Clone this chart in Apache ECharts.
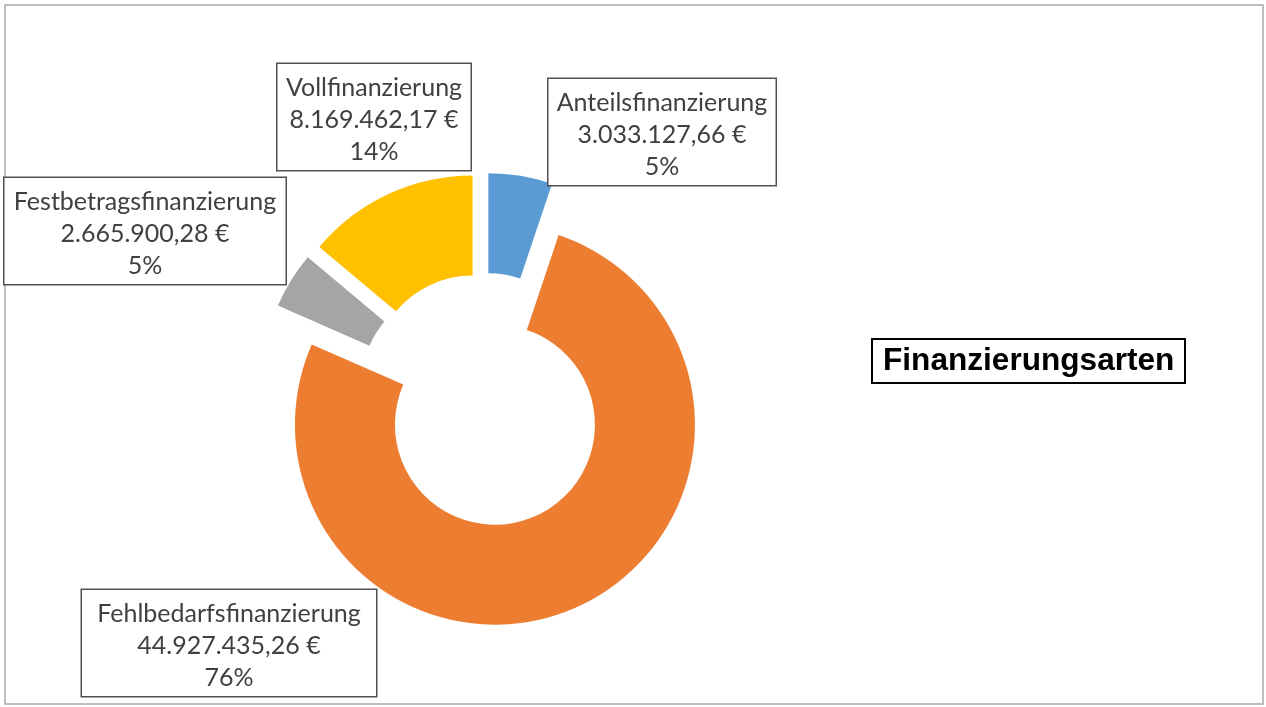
<!DOCTYPE html>
<html>
<head>
<meta charset="utf-8">
<title>Finanzierungsarten</title>
<script src="https://cdn.jsdelivr.net/npm/echarts@6/dist/echarts.min.js"></script>
<style>
    html, body { margin: 0; padding: 0; background: #fff; }
    #chart { width: 1266px; height: 707px; }
</style>
</head>
<body>
<div id="chart"></div>
<script>
    // Daten
    const categories = ['Anteilsfinanzierung', 'Fehlbedarfsfinanzierung', 'Festbetragsfinanzierung', 'Vollfinanzierung']
    const amounts = [3033127.66, 44927435.26, 2665900.28, 8169462.17]
    const titleText = 'Finanzierungsarten'

    // Farben und Lage der Beschriftungskästen (Mitte x, oben y, Breite)
    const sliceColors = ['#5B9BD5', '#ED7D31', '#A5A5A5', '#FFC000']
    const labelBoxes = [
        [662, 79, 227],
        [229, 590, 294],
        [145, 178, 281],
        [374, 64, 193]
    ]

    // 3033127.66 -> "3.033.127,66 €"
    function euro(v) {
        const parts = v.toFixed(2).split('.')
        return parts[0].replace(/\B(?=(\d{3})+(?!\d))/g, '.') + ',' + parts[1] + ' €'
    }

    const total = amounts.reduce((a, b) => a + b, 0)

    // Beschriftungen als Kästen (wie im Original frei platziert)
    const labelGraphics = categories.map((name, i) => ({
        type: 'text',
        x: labelBoxes[i][0],
        y: labelBoxes[i][1],
        silent: true,
        z: 10,
        style: {
            text: name + '\n' + euro(amounts[i]) + '\n' + Math.round(amounts[i] / total * 100) + '%',
            font: '25px Lato',
            lineHeight: 32,
            fill: '#404040',
            align: 'center',
            verticalAlign: 'top',
            width: labelBoxes[i][2],
            backgroundColor: '#fff',
            borderColor: '#505050',
            borderWidth: 1.5,
            padding: [8, 0, 2, 0]
        }
    }))

    const chart = echarts.init(document.getElementById('chart'))

    const option = {
        animation: false,
        backgroundColor: '#fff',
        graphic: [{
            type: 'rect',
            shape: { x: 5, y: 5, width: 1258, height: 699 },
            style: { fill: 'none', stroke: '#a9a9a9', lineWidth: 1.5 },
            silent: true
        }].concat(labelGraphics),
        title: {
            text: titleText,
            left: 872,
            top: 339,
            padding: [5, 11, 5, 11],
            borderColor: '#000',
            borderWidth: 2,
            textStyle: {
                fontFamily: 'Liberation Sans',
                fontWeight: 'bold',
                fontSize: 31.6,
                lineHeight: 34,
                color: '#000'
            }
        },
        series: [{
            type: 'pie',
            center: [484, 400],
            radius: [100, 200],
            startAngle: 90,
            clockwise: true,
            selectedMode: 'multiple',
            selectedOffset: 27,
            select: { itemStyle: { borderWidth: 0 } },
            emphasis: { disabled: true },
            label: { show: false },
            labelLine: { show: false },
            data: categories.map((name, i) => ({
                name: name,
                value: amounts[i],
                selected: true,
                itemStyle: { color: sliceColors[i] }
            }))
        }]
    }

    chart.setOption(option)
</script>
</body>
</html>
